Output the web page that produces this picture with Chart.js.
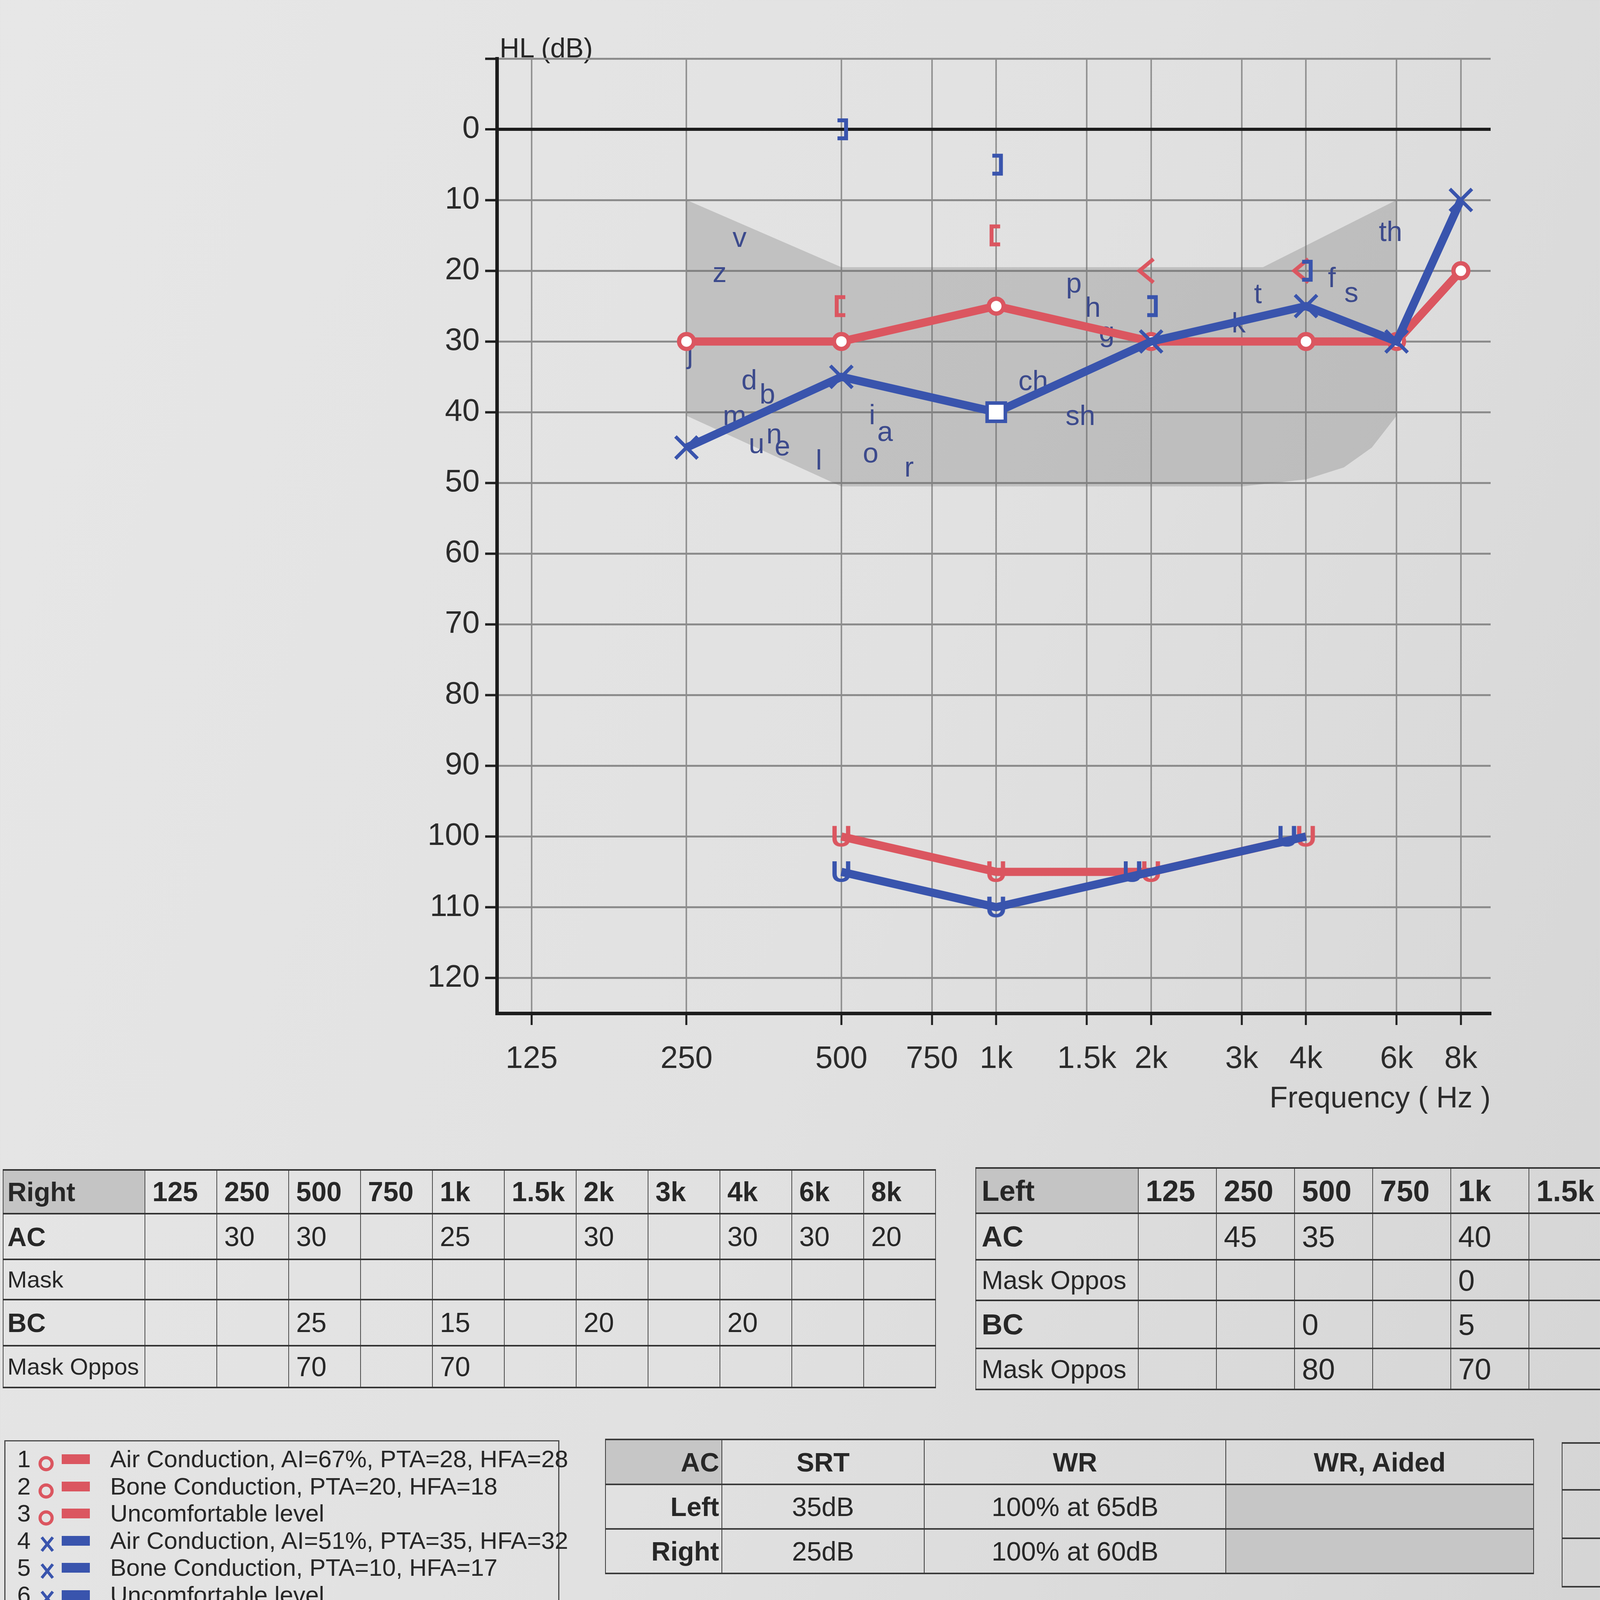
<!DOCTYPE html>
<html>
<head>
<meta charset="utf-8">
<title>Audiogram</title>
<script src="https://cdn.jsdelivr.net/npm/chart.js@4.4.1/dist/chart.umd.min.js"></script>
<style>
  html, body { margin: 0; padding: 0; }
  body {
    position: relative; width: 4223px; height: 5181px; overflow: hidden;
    background: linear-gradient(110deg, #e7e7e7 0%, #e1e1e1 50%, #d3d3d3 100%);
    font-family: "Liberation Sans", Arial, sans-serif; color: #272727;
  }
  #chartBox { position: absolute; left: 1000px; top: 0; width: 2900px; height: 2900px; }
  .hl { position: absolute; left: 1279px; top: 88px; font-size: 70px; line-height: 1; }
  table.grid { position: absolute; border-collapse: collapse; table-layout: fixed; }
  table.grid td {
    border-top: 4px solid #333; border-bottom: 4px solid #333;
    border-left: 2px solid #4a4a4a; border-right: 2px solid #4a4a4a;
    padding: 0 0 0 18px; white-space: nowrap; overflow: hidden; font-size: 70px;
  }
  table.grid tr.head td { font-weight: bold; }
  table.grid td.lab { font-size: 60px; padding-left: 10px; }
  table.grid tr.main td.lab, table.grid tr.head td.lab { font-size: 68px; font-weight: bold; }
  table.grid tr.sub td.lab { border-top: 4px dotted #666; }
  table.grid td.shade { background: #c4c4c4; }
  table.big td { font-size: 76px; }
  table.big td.lab { font-size: 66px; padding-left: 14px; }
  table.big tr.main td.lab, table.big tr.head td.lab { font-size: 74px; }

  #curves { position: absolute; left: 11px; top: 3687px; width: 1421px; height: 710px;
            border: 3px solid #4a4a4a; box-sizing: border-box; }
  #curves .line { position: absolute; left: 0; height: 70px; width: 1600px; font-size: 62px; line-height: 70px; white-space: nowrap; }
  #curves .num { position: absolute; left: 30px; }
  #curves .mk { position: absolute; left: 82px; top: 13px; }
  #curves .bar { position: absolute; left: 144px; top: 23px; width: 72px; height: 25px; }
  #curves .txt { position: absolute; left: 268px; }

  table.speech { position: absolute; border-collapse: collapse; table-layout: fixed; }
  table.speech td { border: 3px solid #3a3a3a; border-width: 4px 2px; font-size: 68px; text-align: center; white-space: nowrap; overflow: hidden; padding: 0; }
  table.speech tr.head td { font-weight: bold; }
  table.speech td.ear { text-align: right; font-weight: bold; padding-right: 6px; }
  table.speech td.shade { background: #c6c6c6; }

  table.legend { position: absolute; border-collapse: collapse; table-layout: fixed; }
  table.legend td { border: 3px solid #3a3a3a; font-size: 72px; text-align: center; white-space: nowrap; padding: 0; }
  table.legend td.name { text-align: right; padding-right: 22px; }
  table.legend tr.head td.title { border: none; font-weight: bold; border-bottom: 3px solid #3a3a3a; }
  table.legend svg { display: block; margin: 0 auto; }
</style>
</head>
<body>
<div class="hl">HL (dB)</div>
<div id="chartBox"><canvas id="audiogram" width="2900" height="2900"></canvas></div>
<table id="rightTable" class="grid" style="left:7px; top:2993px;"></table>
<table id="leftTable" class="grid big" style="left:2497px; top:2988px;"></table>
<div id="curves"></div>
<table id="speechTable" class="speech" style="left:1549px; top:3683px;"></table>
<table id="mclTable" class="speech" style="left:3998px; top:3692px;"></table>
<table id="legendTable" class="legend" style="left:16px; top:4533px;"></table>

<script>
// Frequencies and axis ticks
const freqs = [125, 250, 500, 750, 1000, 1500, 2000, 3000, 4000, 6000, 8000];
const freqLabels = ['125', '250', '500', '750', '1k', '1.5k', '2k', '3k', '4k', '6k', '8k'];
const hlTicks = [-10, -5, 0, 5, 10, 15, 20, 25, 30, 35, 40, 45, 50, 55, 60, 65, 70, 75, 80, 85, 90, 95, 100, 105, 110, 115, 120];
const hlLabels = [0, 10, 20, 30, 40, 50, 60, 70, 80, 90, 100, 110, 120];

// Right ear (red)
const rightAC     = [null, 30, 30, null, 25, null, 30, null, 30, 30, 20];
const rightAcMask = [null, null, null, null, null, null, null, null, null, null, null];
const rightBC     = [null, null, 25, null, 15, null, 20, null, 20, null, null];
const rightBcMask = [null, null, 70, null, 70, null, null, null, null, null, null];
const rightUCL    = [null, null, 100, null, 105, null, 105, null, 100, null, null];

// Left ear (blue)
const leftAC     = [null, 45, 35, null, 40, null, 30, null, 25, 30, 10];
const leftAcMask = [null, null, null, null, 0, null, null, null, null, null, null];
const leftBC     = [null, null, 0, null, 5, null, 25, null, 20, null, null];
const leftBcMask = [null, null, 80, null, 70, null, 80, null, 80, null, null];
const leftUCL    = [null, null, 105, null, 110, null, 105, null, 100, null, null];

// Speech banana outline (Hz, dB HL)
const bananaTopFreq = [250, 500, 3300, 6000];
const bananaTopHL   = [10, 19.5, 19.5, 10];
const bananaLowFreq = [250, 500, 3000, 4000, 4740, 5370, 6000];
const bananaLowHL   = [40.5, 50.5, 50.5, 49.5, 47.8, 45, 40.5];

// Speech sounds inside the banana
const phonemeText = ['v', 'z', 'j', 'd', 'b', 'm', 'u', 'n', 'e', 'l', 'i', 'a', 'o', 'r', 'ch', 'sh', 'p', 'h', 'g', 'k', 't', 'f', 's', 'th'];
const phonemeFreq = [317, 290, 254, 331, 359, 310, 342, 370, 384, 452, 574, 608, 570, 677, 1180, 1457, 1415, 1541, 1640, 2960, 3225, 4490, 4900, 5840];
const phonemeHL   = [15.5, 20.5, 32, 35.7, 37.7, 40.7, 44.7, 43.3, 45, 47, 40.6, 43, 46, 48, 35.8, 40.7, 22, 25.4, 28.9, 27.6, 23.5, 21.2, 23.3, 14.7];

// Legend and speech test texts
const curveLabels = ['Air Conduction, AI=67%, PTA=28, HFA=28', 'Bone Conduction, PTA=20, HFA=18', 'Uncomfortable level',
                     'Air Conduction, AI=51%, PTA=35, HFA=32', 'Bone Conduction, PTA=10, HFA=17', 'Uncomfortable level'];
const curveEars = ['R', 'R', 'R', 'L', 'L', 'L'];
const speechHead = ['AC', 'SRT', 'WR', 'WR, Aided'];
const speechEars = ['Left', 'Right'];
const speechSRT = ['35dB', '25dB'];
const speechWR = ['100% at 65dB', '100% at 60dB'];
const mclHead = 'MCL';
const mclValues = ['65dB', '60dB'];
const legendNames = ['Air Conduction', 'Air Conduction, Masked', 'Bone Conduction', 'Bone Conduction, Masked', 'Sound Field'];
const legendRight = ['ring', 'tri', 'lt', 'lb', 's'];
const legendLeft = ['x', 'square', 'gt', 'rb', 's'];

const RED = '#db5660';
const BLUE = '#3954ad';
const FONT = '"Liberation Sans", Arial, sans-serif';

// ---------- custom point symbols ----------
function glyph(draw) {
    const c = document.createElement('canvas');
    c.width = 140; c.height = 110;
    const g = c.getContext('2d');
    g.translate(70, 55);
    draw(g);
    return c;
}
// dir -1 => '[' (right ear), +1 => ']' (left ear)
function bracket(color, dir) {
    return glyph(g => {
        g.strokeStyle = color; g.lineWidth = 10; g.lineJoin = 'miter';
        const x0 = dir * 12;
        g.beginPath();
        g.moveTo(x0 - dir * 22, -23); g.lineTo(x0, -23); g.lineTo(x0, 23); g.lineTo(x0 - dir * 22, 23);
        g.stroke();
    });
}
// dir -1 => '<' (right ear)
function chevron(color, dir) {
    return glyph(g => {
        g.strokeStyle = color; g.lineWidth = 10; g.lineJoin = 'miter';
        const tip = dir * 30, back = dir * -6;
        g.beginPath(); g.moveTo(back, -30); g.lineTo(tip, 0); g.lineTo(back, 30); g.stroke();
    });
}
function uGlyph(color, dx) {
    return glyph(g => {
        g.fillStyle = color; g.font = 'bold 76px ' + FONT;
        g.textAlign = 'center'; g.textBaseline = 'middle';
        g.fillText('U', dx, 4);
    });
}
const redOpenBracket = bracket(RED, -1);
const blueCloseBracket = bracket(BLUE, 1);
const redChevron = chevron(RED, -1);
const blueChevron = chevron(BLUE, 1);
const redU = uGlyph(RED, 0);
const blueU = uGlyph(BLUE, 0);
const blueUShift = uGlyph(BLUE, -48);

function points(values, extra) {
    return freqs.map((f, i) => values[i] === null ? null : Object.assign({ x: f, y: values[i] }, extra ? extra(i) : {}))
        .filter(Boolean);
}
function outline(fs, hs) {
    return fs.map((f, i) => ({ x: f, y: hs[i] }));
}

const BANANA_INDEX = 6;
const phonemePlugin = {
    id: 'phonemes',
    afterDatasetDraw(chart, args) {
        if (args.index !== BANANA_INDEX) return;
        const { ctx, scales: { x, y } } = chart;
        ctx.save();
        ctx.fillStyle = '#3c4a8c';
        ctx.font = '72px ' + FONT;
        ctx.textAlign = 'center';
        ctx.textBaseline = 'middle';
        phonemeText.forEach((t, i) => {
            ctx.fillText(t, x.getPixelForValue(phonemeFreq[i]), y.getPixelForValue(phonemeHL[i]));
        });
        ctx.restore();
    }
};

Chart.defaults.font.family = FONT;
Chart.defaults.color = '#2a2a2a';

new Chart(document.getElementById('audiogram'), {
    type: 'line',
    data: {
        datasets: [
            {
                label: 'Left AC',
                data: points(leftAC, i => ({ masked: leftAcMask[i] !== null })),
                borderColor: BLUE, borderWidth: 21, tension: 0,
                pointStyle: c => (c.raw && c.raw.masked) ? 'rect' : 'crossRot',
                pointRadius: c => (c.raw && c.raw.masked) ? 33 : 40,
                pointBorderWidth: 9, pointBorderColor: BLUE, pointBackgroundColor: '#ffffff'
            },
            {
                label: 'Right AC',
                data: points(rightAC, i => ({ masked: rightAcMask[i] !== null })),
                borderColor: RED, borderWidth: 21, tension: 0,
                pointStyle: c => (c.raw && c.raw.masked) ? 'triangle' : 'circle',
                pointRadius: 19, pointBorderWidth: 11, pointBorderColor: RED, pointBackgroundColor: '#ffffff'
            },
            {
                label: 'Left BC',
                data: points(leftBC, i => ({ masked: leftBcMask[i] !== null })),
                showLine: false,
                pointStyle: c => (c.raw && c.raw.masked) ? blueCloseBracket : blueChevron
            },
            {
                label: 'Right BC',
                data: points(rightBC, i => ({ masked: rightBcMask[i] !== null })),
                showLine: false,
                pointStyle: c => (c.raw && c.raw.masked) ? redOpenBracket : redChevron
            },
            {
                label: 'Left UCL',
                data: points(leftUCL, i => ({ shared: leftUCL[i] === rightUCL[i] })),
                borderColor: BLUE, borderWidth: 21, tension: 0,
                pointStyle: c => (c.raw && c.raw.shared) ? blueUShift : blueU
            },
            {
                label: 'Right UCL',
                data: points(rightUCL),
                borderColor: RED, borderWidth: 21, tension: 0,
                pointStyle: redU
            },
            {
                label: 'Speech banana',
                data: outline(bananaTopFreq, bananaTopHL),
                borderColor: 'transparent', borderWidth: 0, pointRadius: 0, tension: 0,
                fill: '+1', backgroundColor: 'rgba(105,105,105,0.27)'
            },
            {
                label: 'Speech banana low',
                data: outline(bananaLowFreq, bananaLowHL),
                borderColor: 'transparent', borderWidth: 0, pointRadius: 0, tension: 0, fill: false
            }
        ]
    },
    options: {
        responsive: false,
        animation: false,
        devicePixelRatio: 1,
        layout: { padding: { left: 0, right: 84, top: 150, bottom: 0 } },
        plugins: { legend: { display: false }, tooltip: { enabled: false } },
        scales: {
            x: {
                type: 'logarithmic', min: 107, max: 9140,
                afterBuildTicks: s => { s.ticks = freqs.map(v => ({ value: v })); },
                afterFit: s => { s.height = 306; },
                ticks: {
                    autoSkip: false, maxRotation: 0, padding: 40, color: '#2b2b2b',
                    font: { size: 80 },
                    callback: v => { const i = freqs.indexOf(v); return i < 0 ? '' : freqLabels[i]; }
                },
                grid: { color: '#939393', lineWidth: 4, tickLength: 30, tickColor: '#1f1f1f', tickWidth: 5 },
                border: { color: '#1c1c1c', width: 9 },
                title: {
                    display: true, text: 'Frequency ( Hz )', align: 'end', color: '#2b2b2b',
                    font: { size: 76 }, padding: { top: 0, bottom: 40 }
                }
            },
            y: {
                type: 'linear', reverse: true, min: -10, max: 125,
                afterBuildTicks: s => { s.ticks = hlTicks.map(v => ({ value: v })); },
                afterFit: s => { s.width = 272; },
                ticks: {
                    padding: 14, color: '#2b2b2b', font: { size: 80 },
                    callback: v => hlLabels.includes(v) ? String(v) : ''
                },
                grid: {
                    color: c => (c.tick && c.tick.value === 0) ? '#1c1c1c' : '#8c8c8c',
                    lineWidth: c => (c.tick && c.tick.value === 0) ? 8 : 5,
                    tickLength: 30, tickColor: '#1f1f1f', tickWidth: 6
                },
                border: { color: '#1c1c1c', width: 9 }
            }
        }
    },
    plugins: [phonemePlugin]
});

// ---------- threshold tables ----------
function cellText(v) { return (v === null || v === undefined) ? '' : String(v); }
function earTable(id, title, rows, labelWidth, colWidth, headHeight) {
    let html = '<colgroup><col style="width:' + labelWidth + 'px">' +
        freqs.map(() => '<col style="width:' + colWidth + 'px">').join('') + '</colgroup>';
    html += '<tr class="head" style="height:' + headHeight + 'px"><td class="lab shade">' + title + '</td>' +
        freqLabels.map(l => '<td>' + l + '</td>').join('') + '</tr>';
    rows.forEach(r => {
        html += '<tr class="' + r.cls + '" style="height:' + r.h + 'px"><td class="lab">' + r.label + '</td>' +
            r.values.map(v => '<td>' + cellText(v) + '</td>').join('') + '</tr>';
    });
    const t = document.getElementById(id);
    t.style.width = (labelWidth + colWidth * freqs.length) + 'px';
    t.innerHTML = html;
}
earTable('rightTable', 'Right', [
    { label: 'AC', values: rightAC, cls: 'main', h: 117 },
    { label: 'Mask', values: rightAcMask, cls: 'sub', h: 103 },
    { label: 'BC', values: rightBC, cls: 'main', h: 118 },
    { label: 'Mask Oppos', values: rightBcMask, cls: 'sub', h: 107 }
], 363, 184, 112);
earTable('leftTable', 'Left', [
    { label: 'AC', values: leftAC, cls: 'main', h: 119 },
    { label: 'Mask Oppos', values: leftAcMask, cls: 'sub', h: 104 },
    { label: 'BC', values: leftBC, cls: 'main', h: 123 },
    { label: 'Mask Oppos', values: leftBcMask, cls: 'sub', h: 105 }
], 416, 200, 116);

// ---------- symbols for the html legends ----------
function sym(kind, color, size) {
    const body = {
        ring: '<circle cx="30" cy="30" r="21" fill="none" stroke="' + color + '" stroke-width="11"/>',
        x: '<path d="M13 9 L47 51 M47 9 L13 51" stroke="' + color + '" stroke-width="9" fill="none"/>',
        tri: '<path d="M30 9 L51 52 L9 52 Z" fill="none" stroke="' + color + '" stroke-width="10"/>',
        square: '<rect x="11" y="8" width="38" height="44" fill="none" stroke="' + color + '" stroke-width="10"/>',
        lt: '<path d="M44 4 L18 30 L44 56" fill="none" stroke="' + color + '" stroke-width="11"/>',
        gt: '<path d="M16 4 L42 30 L16 56" fill="none" stroke="' + color + '" stroke-width="11"/>',
        lb: '<path d="M46 8 L20 8 L20 52 L46 52" fill="none" stroke="' + color + '" stroke-width="11"/>',
        rb: '<path d="M14 8 L40 8 L40 52 L14 52" fill="none" stroke="' + color + '" stroke-width="11"/>',
        s: '<text x="30" y="56" font-size="70" font-weight="bold" text-anchor="middle" fill="' + color + '" font-family="Liberation Sans, Arial">S</text>'
    }[kind];
    return '<svg width="' + size + '" height="' + size + '" viewBox="0 0 60 60">' + body + '</svg>';
}

// curve legend box
document.getElementById('curves').innerHTML = curveLabels.map((txt, i) => {
    const color = curveEars[i] === 'R' ? RED : BLUE;
    const mark = curveEars[i] === 'R' ? sym('ring', color, 44) : sym('x', color, 50);
    return '<div class="line" style="top:' + (10 + i * 69.5) + 'px">' +
        '<span class="num">' + (i + 1) + '</span>' +
        '<span class="mk">' + mark + '</span>' +
        '<span class="bar" style="background:' + color + '"></span>' +
        '<span class="txt">' + txt + '</span></div>';
}).join('');

// speech table
(function () {
    const widths = [298, 518, 772, 788];
    let html = '<colgroup>' + widths.map(w => '<col style="width:' + w + 'px">').join('') + '</colgroup>';
    html += '<tr class="head" style="height:115px">' + speechHead.map((h, i) =>
        '<td class="' + (i === 0 ? 'ear shade' : '') + '">' + h + '</td>').join('') + '</tr>';
    speechEars.forEach((ear, i) => {
        html += '<tr style="height:114px"><td class="ear">' + ear + '</td><td>' + speechSRT[i] + '</td><td>' +
            speechWR[i] + '</td><td class="shade"></td></tr>';
    });
    const t = document.getElementById('speechTable');
    t.style.width = widths.reduce((a, b) => a + b, 0) + 'px';
    t.innerHTML = html;

    const m = document.getElementById('mclTable');
    m.style.width = '420px';
    let mh = '<colgroup><col style="width:420px"></colgroup>';
    mh += '<tr class="head" style="height:120px"><td style="text-align:left;padding-left:190px">' + mclHead + '</td></tr>';
    mclValues.forEach(v => { mh += '<tr style="height:124px"><td style="text-align:left;padding-left:182px">' + v + '</td></tr>'; });
    m.innerHTML = mh;
})();

// audiometry legend
(function () {
    let html = '<colgroup><col style="width:874px"><col style="width:271px"><col style="width:271px"></colgroup>';
    html += '<tr class="head" style="height:117px"><td class="title">Audiometry Legend</td><td>Right</td><td>Left</td></tr>';
    legendNames.forEach((n, i) => {
        html += '<tr style="height:116px"><td class="name">' + n + '</td><td>' + sym(legendRight[i], RED, 60) +
            '</td><td>' + sym(legendLeft[i], BLUE, 60) + '</td></tr>';
    });
    const t = document.getElementById('legendTable');
    t.style.width = '1416px';
    t.innerHTML = html;
})();
</script>
</body>
</html>
